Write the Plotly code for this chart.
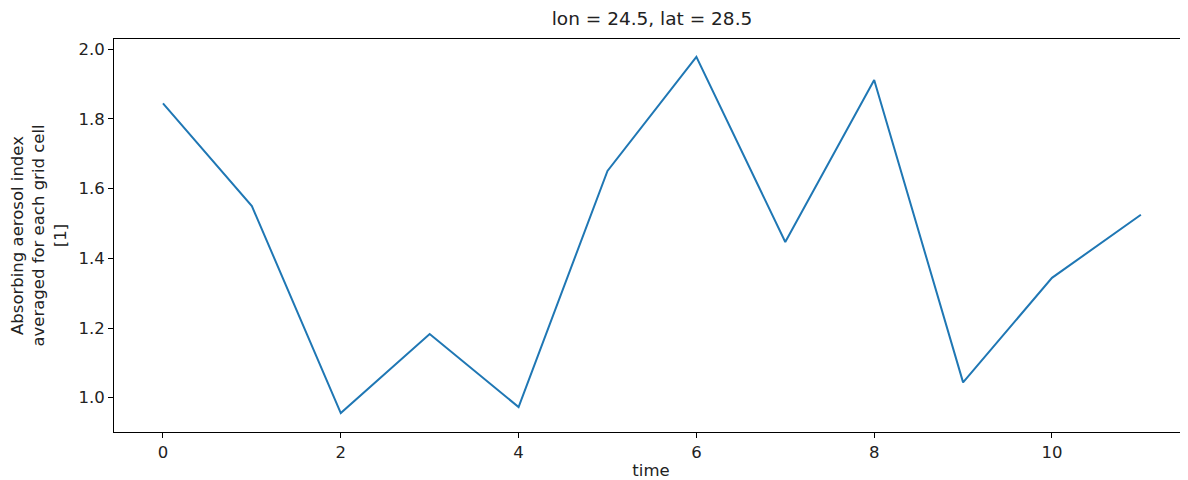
import plotly.graph_objects as go

time = list(range(12))
aai = [1.845, 1.550, 0.956, 1.183, 0.973, 1.651, 1.978, 1.447, 1.912, 1.044, 1.344, 1.525]

x_ticks = [0, 2, 4, 6, 8, 10]
y_ticks = [1.0, 1.2, 1.4, 1.6, 1.8, 2.0]

title_text = "lon = 24.5, lat = 28.5"
x_label = "time"
y_label = "Absorbing aerosol index<br>averaged for each grid cell<br>[1]"

fig = go.Figure()
fig.add_trace(go.Scatter(
    x=time, y=aai, mode="lines",
    line=dict(color="#1f77b4", width=2),
    showlegend=False, hoverinfo="x+y",
))

font = dict(family="DejaVu Sans", size=16.5, color="#222222")

# page body has an 8px margin; sizes compensate for it
W, H = 1180, 472

fig.update_layout(
    width=W, height=H,
    margin=dict(l=106, r=0, t=31, b=48),
    paper_bgcolor="white", plot_bgcolor="white",
    font=font,
    title=dict(text=title_text, x=(644 / W), xanchor="center",
               y=1 - 11 / H, yanchor="middle",
               font=dict(family="DejaVu Sans", size=18.5, color="#222222")),
    xaxis=dict(
        range=[-0.551, 11.53],
        tickmode="array", tickvals=x_ticks, ticktext=[str(v) for v in x_ticks],
        showgrid=False, zeroline=False,
        showline=True, linecolor="black", linewidth=1, mirror=True,
        ticks="outside", ticklen=5, tickwidth=1, tickcolor="black",
        title=dict(text=x_label, standoff=6, font=font),
    ),
    yaxis=dict(
        range=[0.9016, 2.0295],
        tickmode="array", tickvals=y_ticks, ticktext=[f"{v:.1f}" for v in y_ticks],
        showgrid=False, zeroline=False,
        showline=True, linecolor="black", linewidth=1, mirror=False,
        ticks="outside", ticklen=5, tickwidth=1, tickcolor="black",
        title=dict(text=y_label, standoff=8, font=font),
    ),
)

fig.write_html("out.html")
